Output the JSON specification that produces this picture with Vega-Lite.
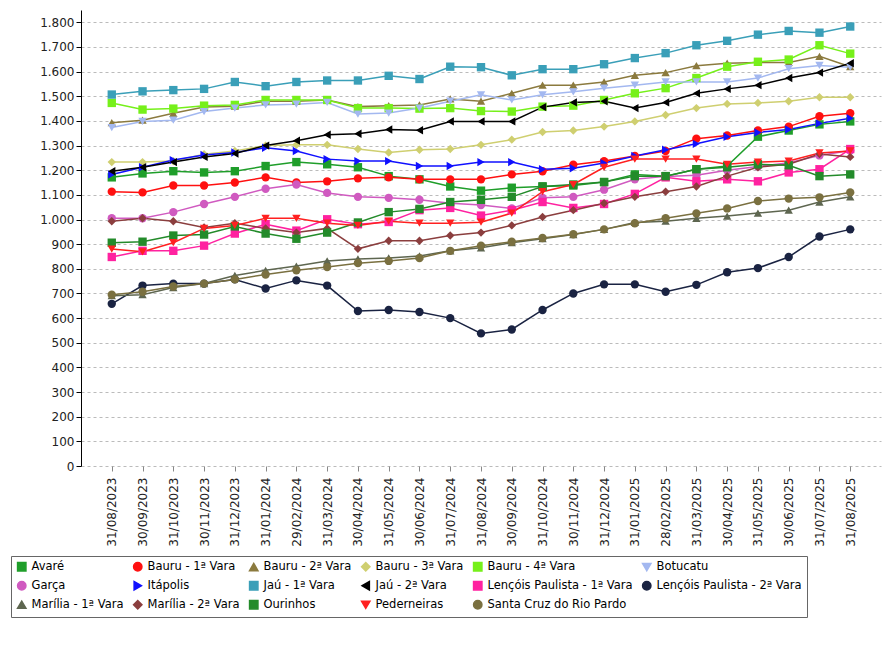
{
  "$schema": "https://vega.github.io/schema/vega-lite/v6.json",
  "width": 800,
  "height": 456,
  "padding": {"left": 10, "top": 10, "right": 5, "bottom": 5},
  "data": {
    "values": [
      {"d":"31/08/2023","Avaré":1171,"Bauru - 1ª Vara":1113,"Bauru - 2ª Vara":1393,"Bauru - 3ª Vara":1233,"Bauru - 4ª Vara":1473,"Botucatu":1373,"Garça":1005,"Itápolis":1183,"Jaú - 1ª Vara":1507,"Jaú - 2ª Vara":1196,"Lençóis Paulista - 1ª Vara":848,"Lençóis Paulista - 2ª Vara":658,"Marília - 1ª Vara":691,"Marília - 2ª Vara":993,"Ourinhos":906,"Pederneiras":880,"Santa Cruz do Rio Pardo":695},
      {"d":"30/09/2023","Avaré":1187,"Bauru - 1ª Vara":1110,"Bauru - 2ª Vara":1403,"Bauru - 3ª Vara":1233,"Bauru - 4ª Vara":1446,"Botucatu":1398,"Garça":1005,"Itápolis":1212,"Jaú - 1ª Vara":1520,"Jaú - 2ª Vara":1212,"Lençóis Paulista - 1ª Vara":873,"Lençóis Paulista - 2ª Vara":732,"Marília - 1ª Vara":695,"Marília - 2ª Vara":1005,"Ourinhos":910,"Pederneiras":869,"Santa Cruz do Rio Pardo":707},
      {"d":"31/10/2023","Avaré":1196,"Bauru - 1ª Vara":1138,"Bauru - 2ª Vara":1431,"Bauru - 3ª Vara":1237,"Bauru - 4ª Vara":1450,"Botucatu":1403,"Garça":1030,"Itápolis":1241,"Jaú - 1ª Vara":1525,"Jaú - 2ª Vara":1233,"Lençóis Paulista - 1ª Vara":873,"Lençóis Paulista - 2ª Vara":740,"Marília - 1ª Vara":724,"Marília - 2ª Vara":993,"Ourinhos":935,"Pederneiras":906,"Santa Cruz do Rio Pardo":728},
      {"d":"30/11/2023","Avaré":1191,"Bauru - 1ª Vara":1138,"Bauru - 2ª Vara":1456,"Bauru - 3ª Vara":1265,"Bauru - 4ª Vara":1462,"Botucatu":1438,"Garça":1063,"Itápolis":1262,"Jaú - 1ª Vara":1530,"Jaú - 2ª Vara":1254,"Lençóis Paulista - 1ª Vara":894,"Lençóis Paulista - 2ª Vara":740,"Marília - 1ª Vara":740,"Marília - 2ª Vara":968,"Ourinhos":939,"Pederneiras":964,"Santa Cruz do Rio Pardo":740},
      {"d":"31/12/2023","Avaré":1196,"Bauru - 1ª Vara":1150,"Bauru - 2ª Vara":1460,"Bauru - 3ª Vara":1278,"Bauru - 4ª Vara":1465,"Botucatu":1452,"Garça":1092,"Itápolis":1272,"Jaú - 1ª Vara":1558,"Jaú - 2ª Vara":1268,"Lençóis Paulista - 1ª Vara":943,"Lençóis Paulista - 2ª Vara":757,"Marília - 1ª Vara":773,"Marília - 2ª Vara":985,"Ourinhos":972,"Pederneiras":976,"Santa Cruz do Rio Pardo":757},
      {"d":"31/01/2024","Avaré":1217,"Bauru - 1ª Vara":1171,"Bauru - 2ª Vara":1480,"Bauru - 3ª Vara":1300,"Bauru - 4ª Vara":1485,"Botucatu":1465,"Garça":1125,"Itápolis":1291,"Jaú - 1ª Vara":1541,"Jaú - 2ª Vara":1300,"Lençóis Paulista - 1ª Vara":981,"Lençóis Paulista - 2ª Vara":720,"Marília - 1ª Vara":794,"Marília - 2ª Vara":964,"Ourinhos":943,"Pederneiras":1005,"Santa Cruz do Rio Pardo":777},
      {"d":"29/02/2024","Avaré":1233,"Bauru - 1ª Vara":1150,"Bauru - 2ª Vara":1480,"Bauru - 3ª Vara":1303,"Bauru - 4ª Vara":1485,"Botucatu":1468,"Garça":1142,"Itápolis":1278,"Jaú - 1ª Vara":1558,"Jaú - 2ª Vara":1320,"Lençóis Paulista - 1ª Vara":955,"Lençóis Paulista - 2ª Vara":753,"Marília - 1ª Vara":811,"Marília - 2ª Vara":947,"Ourinhos":922,"Pederneiras":1005,"Santa Cruz do Rio Pardo":794},
      {"d":"31/03/2024","Avaré":1224,"Bauru - 1ª Vara":1155,"Bauru - 2ª Vara":1485,"Bauru - 3ª Vara":1303,"Bauru - 4ª Vara":1485,"Botucatu":1475,"Garça":1108,"Itápolis":1245,"Jaú - 1ª Vara":1564,"Jaú - 2ª Vara":1344,"Lençóis Paulista - 1ª Vara":1001,"Lençóis Paulista - 2ª Vara":732,"Marília - 1ª Vara":832,"Marília - 2ª Vara":964,"Ourinhos":947,"Pederneiras":985,"Santa Cruz do Rio Pardo":807},
      {"d":"30/04/2024","Avaré":1212,"Bauru - 1ª Vara":1167,"Bauru - 2ª Vara":1458,"Bauru - 3ª Vara":1286,"Bauru - 4ª Vara":1452,"Botucatu":1428,"Garça":1092,"Itápolis":1237,"Jaú - 1ª Vara":1564,"Jaú - 2ª Vara":1348,"Lençóis Paulista - 1ª Vara":981,"Lençóis Paulista - 2ª Vara":629,"Marília - 1ª Vara":840,"Marília - 2ª Vara":881,"Ourinhos":988,"Pederneiras":976,"Santa Cruz do Rio Pardo":823},
      {"d":"31/05/2024","Avaré":1176,"Bauru - 1ª Vara":1171,"Bauru - 2ª Vara":1462,"Bauru - 3ª Vara":1272,"Bauru - 4ª Vara":1452,"Botucatu":1432,"Garça":1088,"Itápolis":1237,"Jaú - 1ª Vara":1583,"Jaú - 2ª Vara":1365,"Lençóis Paulista - 1ª Vara":990,"Lençóis Paulista - 2ª Vara":633,"Marília - 1ª Vara":844,"Marília - 2ª Vara":914,"Ourinhos":1030,"Pederneiras":993,"Santa Cruz do Rio Pardo":832},
      {"d":"30/06/2024","Avaré":1163,"Bauru - 1ª Vara":1163,"Bauru - 2ª Vara":1465,"Bauru - 3ª Vara":1283,"Bauru - 4ª Vara":1450,"Botucatu":1452,"Garça":1080,"Itápolis":1217,"Jaú - 1ª Vara":1570,"Jaú - 2ª Vara":1362,"Lençóis Paulista - 1ª Vara":1038,"Lençóis Paulista - 2ª Vara":625,"Marília - 1ª Vara":852,"Marília - 2ª Vara":914,"Ourinhos":1043,"Pederneiras":985,"Santa Cruz do Rio Pardo":844},
      {"d":"31/07/2024","Avaré":1134,"Bauru - 1ª Vara":1163,"Bauru - 2ª Vara":1489,"Bauru - 3ª Vara":1286,"Bauru - 4ª Vara":1452,"Botucatu":1480,"Garça":1066,"Itápolis":1217,"Jaú - 1ª Vara":1620,"Jaú - 2ª Vara":1398,"Lençóis Paulista - 1ª Vara":1047,"Lençóis Paulista - 2ª Vara":600,"Marília - 1ª Vara":873,"Marília - 2ª Vara":935,"Ourinhos":1071,"Pederneiras":985,"Santa Cruz do Rio Pardo":873},
      {"d":"31/08/2024","Avaré":1117,"Bauru - 1ª Vara":1163,"Bauru - 2ª Vara":1480,"Bauru - 3ª Vara":1303,"Bauru - 4ª Vara":1440,"Botucatu":1506,"Garça":1059,"Itápolis":1233,"Jaú - 1ª Vara":1618,"Jaú - 2ª Vara":1398,"Lençóis Paulista - 1ª Vara":1016,"Lençóis Paulista - 2ª Vara":538,"Marília - 1ª Vara":885,"Marília - 2ª Vara":947,"Ourinhos":1080,"Pederneiras":989,"Santa Cruz do Rio Pardo":894},
      {"d":"30/09/2024","Avaré":1129,"Bauru - 1ª Vara":1183,"Bauru - 2ª Vara":1512,"Bauru - 3ª Vara":1324,"Bauru - 4ª Vara":1438,"Botucatu":1485,"Garça":1045,"Itápolis":1233,"Jaú - 1ª Vara":1585,"Jaú - 2ª Vara":1398,"Lençóis Paulista - 1ª Vara":1038,"Lençóis Paulista - 2ª Vara":554,"Marília - 1ª Vara":906,"Marília - 2ª Vara":976,"Ourinhos":1092,"Pederneiras":1026,"Santa Cruz do Rio Pardo":910},
      {"d":"31/10/2024","Avaré":1134,"Bauru - 1ª Vara":1196,"Bauru - 2ª Vara":1545,"Bauru - 3ª Vara":1355,"Bauru - 4ª Vara":1458,"Botucatu":1506,"Garça":1088,"Itápolis":1204,"Jaú - 1ª Vara":1610,"Jaú - 2ª Vara":1456,"Lençóis Paulista - 1ª Vara":1071,"Lençóis Paulista - 2ª Vara":633,"Marília - 1ª Vara":922,"Marília - 2ª Vara":1010,"Ourinhos":1134,"Pederneiras":1113,"Santa Cruz do Rio Pardo":925},
      {"d":"30/11/2024","Avaré":1138,"Bauru - 1ª Vara":1222,"Bauru - 2ª Vara":1545,"Bauru - 3ª Vara":1361,"Bauru - 4ª Vara":1462,"Botucatu":1518,"Garça":1092,"Itápolis":1208,"Jaú - 1ª Vara":1610,"Jaú - 2ª Vara":1475,"Lençóis Paulista - 1ª Vara":1047,"Lençóis Paulista - 2ª Vara":700,"Marília - 1ª Vara":939,"Marília - 2ª Vara":1038,"Ourinhos":1142,"Pederneiras":1142,"Santa Cruz do Rio Pardo":940},
      {"d":"31/12/2024","Avaré":1152,"Bauru - 1ª Vara":1237,"Bauru - 2ª Vara":1558,"Bauru - 3ª Vara":1377,"Bauru - 4ª Vara":1485,"Botucatu":1533,"Garça":1121,"Itápolis":1229,"Jaú - 1ª Vara":1630,"Jaú - 2ª Vara":1480,"Lençóis Paulista - 1ª Vara":1063,"Lençóis Paulista - 2ª Vara":737,"Marília - 1ª Vara":960,"Marília - 2ª Vara":1066,"Ourinhos":1152,"Pederneiras":1212,"Santa Cruz do Rio Pardo":960},
      {"d":"31/01/2025","Avaré":1183,"Bauru - 1ª Vara":1258,"Bauru - 2ª Vara":1585,"Bauru - 3ª Vara":1398,"Bauru - 4ª Vara":1512,"Botucatu":1545,"Garça":1163,"Itápolis":1258,"Jaú - 1ª Vara":1655,"Jaú - 2ª Vara":1452,"Lençóis Paulista - 1ª Vara":1104,"Lençóis Paulista - 2ª Vara":737,"Marília - 1ª Vara":988,"Marília - 2ª Vara":1092,"Ourinhos":1176,"Pederneiras":1245,"Santa Cruz do Rio Pardo":985},
      {"d":"28/02/2025","Avaré":1176,"Bauru - 1ª Vara":1278,"Bauru - 2ª Vara":1596,"Bauru - 3ª Vara":1424,"Bauru - 4ª Vara":1533,"Botucatu":1558,"Garça":1175,"Itápolis":1283,"Jaú - 1ª Vara":1675,"Jaú - 2ª Vara":1475,"Lençóis Paulista - 1ª Vara":1171,"Lençóis Paulista - 2ª Vara":707,"Marília - 1ª Vara":993,"Marília - 2ª Vara":1113,"Ourinhos":1176,"Pederneiras":1245,"Santa Cruz do Rio Pardo":1005},
      {"d":"31/03/2025","Avaré":1204,"Bauru - 1ª Vara":1328,"Bauru - 2ª Vara":1624,"Bauru - 3ª Vara":1452,"Bauru - 4ª Vara":1574,"Botucatu":1558,"Garça":1180,"Itápolis":1307,"Jaú - 1ª Vara":1707,"Jaú - 2ª Vara":1512,"Lençóis Paulista - 1ª Vara":1155,"Lençóis Paulista - 2ª Vara":735,"Marília - 1ª Vara":1005,"Marília - 2ª Vara":1134,"Ourinhos":1204,"Pederneiras":1245,"Santa Cruz do Rio Pardo":1025},
      {"d":"30/04/2025","Avaré":1217,"Bauru - 1ª Vara":1341,"Bauru - 2ª Vara":1634,"Bauru - 3ª Vara":1469,"Bauru - 4ª Vara":1620,"Botucatu":1558,"Garça":1200,"Itápolis":1336,"Jaú - 1ª Vara":1725,"Jaú - 2ª Vara":1530,"Lençóis Paulista - 1ª Vara":1163,"Lençóis Paulista - 2ª Vara":786,"Marília - 1ª Vara":1014,"Marília - 2ª Vara":1176,"Ourinhos":1212,"Pederneiras":1224,"Santa Cruz do Rio Pardo":1045},
      {"d":"31/05/2025","Avaré":1336,"Bauru - 1ª Vara":1361,"Bauru - 2ª Vara":1637,"Bauru - 3ª Vara":1473,"Bauru - 4ª Vara":1640,"Botucatu":1574,"Garça":1215,"Itápolis":1353,"Jaú - 1ª Vara":1750,"Jaú - 2ª Vara":1545,"Lençóis Paulista - 1ª Vara":1155,"Lençóis Paulista - 2ª Vara":803,"Marília - 1ª Vara":1026,"Marília - 2ª Vara":1212,"Ourinhos":1224,"Pederneiras":1233,"Santa Cruz do Rio Pardo":1075},
      {"d":"30/06/2025","Avaré":1361,"Bauru - 1ª Vara":1377,"Bauru - 2ª Vara":1637,"Bauru - 3ª Vara":1480,"Bauru - 4ª Vara":1649,"Botucatu":1612,"Garça":1230,"Itápolis":1365,"Jaú - 1ª Vara":1765,"Jaú - 2ª Vara":1574,"Lençóis Paulista - 1ª Vara":1191,"Lençóis Paulista - 2ª Vara":848,"Marília - 1ª Vara":1038,"Marília - 2ª Vara":1224,"Ourinhos":1220,"Pederneiras":1237,"Santa Cruz do Rio Pardo":1085},
      {"d":"31/07/2025","Avaré":1386,"Bauru - 1ª Vara":1419,"Bauru - 2ª Vara":1662,"Bauru - 3ª Vara":1496,"Bauru - 4ª Vara":1707,"Botucatu":1625,"Garça":1260,"Itápolis":1390,"Jaú - 1ª Vara":1758,"Jaú - 2ª Vara":1596,"Lençóis Paulista - 1ª Vara":1204,"Lençóis Paulista - 2ª Vara":931,"Marília - 1ª Vara":1071,"Marília - 2ª Vara":1266,"Ourinhos":1176,"Pederneiras":1270,"Santa Cruz do Rio Pardo":1090},
      {"d":"31/08/2025","Avaré":1398,"Bauru - 1ª Vara":1431,"Bauru - 2ª Vara":1620,"Bauru - 3ª Vara":1496,"Bauru - 4ª Vara":1673,"Botucatu":1618,"Garça":1280,"Itápolis":1411,"Jaú - 1ª Vara":1783,"Jaú - 2ª Vara":1634,"Lençóis Paulista - 1ª Vara":1286,"Lençóis Paulista - 2ª Vara":960,"Marília - 1ª Vara":1092,"Marília - 2ª Vara":1254,"Ourinhos":1183,"Pederneiras":1278,"Santa Cruz do Rio Pardo":1110}
    ]
  },
  "transform": [
    {"fold": ["Avaré","Bauru - 1ª Vara","Bauru - 2ª Vara","Bauru - 3ª Vara","Bauru - 4ª Vara","Botucatu","Garça","Itápolis","Jaú - 1ª Vara","Jaú - 2ª Vara","Lençóis Paulista - 1ª Vara","Lençóis Paulista - 2ª Vara","Marília - 1ª Vara","Marília - 2ª Vara","Ourinhos","Pederneiras","Santa Cruz do Rio Pardo"], "as": ["s", "v"]}
  ],
  "encoding": {
    "x": {
      "field": "d", "type": "ordinal", "sort": null, "title": null,
      "scale": {"type": "point", "padding": 1.74},
      "axis": {"labelAngle": 270, "grid": false, "labelFontSize": 12, "labelColor": "#222", "domain": false, "ticks": true, "labelPadding": 6}
    },
    "y": {
      "field": "v", "type": "quantitative", "title": null,
      "scale": {"domain": [0, 1850], "nice": false},
      "axis": {"values": [0,100,200,300,400,500,600,700,800,900,1000,1100,1200,1300,1400,1500,1600,1700,1800], "format": ",d", "labelFontSize": 12, "labelColor": "#222", "gridDash": [3, 3], "gridColor": "#bbbbbb", "domainColor": "#000", "tickColor": "#000"}
    },
    "color": {
      "field": "s", "type": "nominal", "title": null,
      "scale": {
        "domain": ["Avaré","Bauru - 1ª Vara","Bauru - 2ª Vara","Bauru - 3ª Vara","Bauru - 4ª Vara","Botucatu","Garça","Itápolis","Jaú - 1ª Vara","Jaú - 2ª Vara","Lençóis Paulista - 1ª Vara","Lençóis Paulista - 2ª Vara","Marília - 1ª Vara","Marília - 2ª Vara","Ourinhos","Pederneiras","Santa Cruz do Rio Pardo"],
        "range": ["#1f9e2a","#ff1010","#8b7a3e","#cfcf70","#76f01a","#a3b8f0","#d05ac0","#1010ff","#3a9fb8","#000000","#ff22a0","#1a2342","#5e6650","#8b3e3e","#238b2a","#ff2020","#7a7040"]
      },
      "legend": {"orient": "none", "legendX": -70, "legendY": 546, "direction": "horizontal", "columns": 6, "labelFontSize": 11.5, "symbolSize": 70, "columnPadding": 6, "rowPadding": 4, "strokeColor": "#666", "padding": 5, "labelLimit": 220}
    },
    "shape": {
      "field": "s", "type": "nominal", "title": null,
      "scale": {
        "domain": ["Avaré","Bauru - 1ª Vara","Bauru - 2ª Vara","Bauru - 3ª Vara","Bauru - 4ª Vara","Botucatu","Garça","Itápolis","Jaú - 1ª Vara","Jaú - 2ª Vara","Lençóis Paulista - 1ª Vara","Lençóis Paulista - 2ª Vara","Marília - 1ª Vara","Marília - 2ª Vara","Ourinhos","Pederneiras","Santa Cruz do Rio Pardo"],
        "range": ["square","circle","triangle-up","diamond","square","triangle-down","circle","triangle-right","square","triangle-left","square","circle","triangle-up","diamond","square","triangle-down","circle"]
      }
    }
  },
  "layer": [
    {"mark": {"type": "line", "strokeWidth": 1.5}, "encoding": {"detail": {"field": "s"}}},
    {"mark": {"type": "point", "filled": true, "size": 70, "opacity": 1}}
  ],
  "config": {
    "font": "DejaVu Sans",
    "locale": {"number": {"decimal": ",", "thousands": ".", "grouping": [3], "currency": ["R$", ""]}},
    "view": {"stroke": null}
  }
}
